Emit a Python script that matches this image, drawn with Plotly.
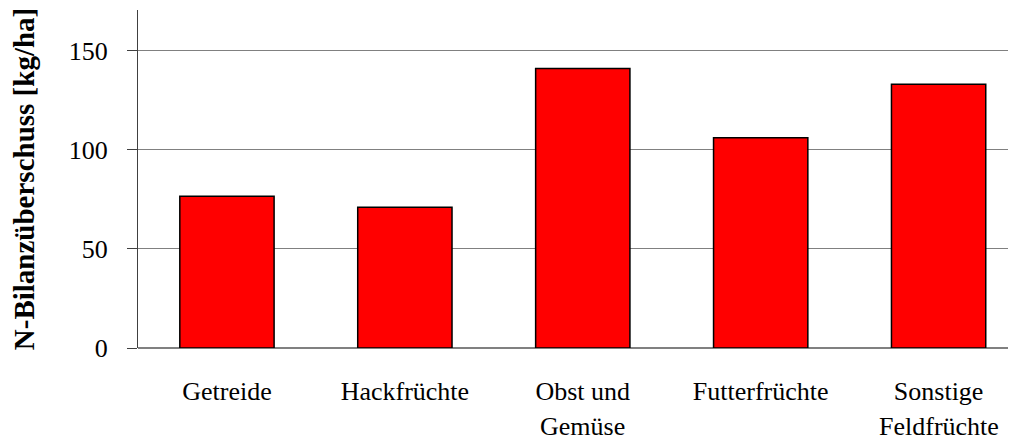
import plotly.graph_objects as go

# Kategorien und N-Bilanzüberschuss je Fruchtart
categories = ['Getreide', 'Hackfrüchte', 'Obst und Gemüse', 'Futterfrüchte', 'Sonstige Feldfrüchte']
label_line1 = ['Getreide', 'Hackfrüchte', 'Obst und', 'Futterfrüchte', 'Sonstige']
label_line2 = ['', '', 'Gemüse', '', 'Feldfrüchte']
values = [76.5, 71, 141, 106, 133]
y_ticks = [0, 50, 100, 150]

font_family = 'Liberation Serif, Times New Roman, serif'

fig = go.Figure()
fig.add_trace(go.Bar(
    x=categories,
    y=values,
    width=0.53,
    marker=dict(color='#ff0000', line=dict(color='black', width=1.5)),
    showlegend=False,
))

# zweite Zeile der Achsenbeschriftung (größerer Zeilenabstand als Plotly-Standard)
for cat, txt in zip(categories, label_line2):
    if txt:
        fig.add_annotation(
            x=cat, y=0, xref='x', yref='y',
            text=txt, showarrow=False,
            yanchor='top', yshift=-62,
            font=dict(family=font_family, size=26, color='black'),
        )

# die Seite setzt die Grafik um 8 px (body-Rand) nach rechts unten
fig.update_layout(
    width=1008,
    height=432,
    margin=dict(l=130, r=0, t=2, b=92),
    plot_bgcolor='white',
    paper_bgcolor='white',
    font=dict(family=font_family, size=26, color='black'),
    xaxis=dict(
        tickmode='array',
        tickvals=categories,
        ticktext=label_line1,
        range=[-0.5, 4.435],
        showline=False,
        ticks='',
        ticklabelstandoff=25,
        showgrid=False,
    ),
    yaxis=dict(
        title=dict(text='<b>N-Bilanzüberschuss [kg/ha]</b>', font=dict(size=29), standoff=34),
        range=[0, 170.5],
        tickvals=y_ticks,
        showline=True,
        linecolor='#404040',
        linewidth=1,
        ticks='outside',
        ticklen=10,
        tickcolor='#404040',
        ticklabelstandoff=14,
        showgrid=True,
        gridcolor='#808080',
        gridwidth=1,
        zeroline=True,
        zerolinecolor='#808080',
        zerolinewidth=1.5,
    ),
)

fig.write_html('out.html')
